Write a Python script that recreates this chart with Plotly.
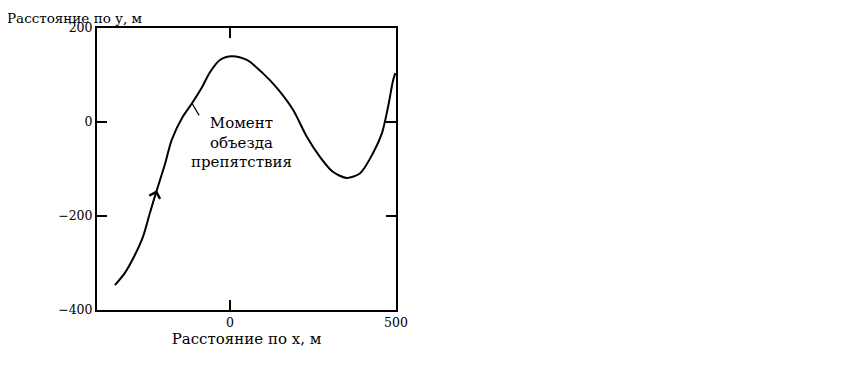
import plotly.graph_objects as go

# trajectory (x, y) in metres
x_m = [-346, -316, -286, -262, -241, -220, -196, -175, -142, -114, -84, -60, -30, 6, 51, 99, 142,
       190, 232, 271, 310, 352, 392, 431, 458, 476, 491, 498]
y_m = [-347, -321, -283, -245, -194, -145, -91, -38, 11, 40, 74, 106, 132, 140, 132, 104, 72,
       26, -32, -74, -106, -119, -109, -66, -23, 32, 88, 104]

x_ticks = [0, 500]
y_ticks = [200, 0, -200, -400]
x_title = "Расстояние по х, м"
y_title = "Расстояние по у, м"
label_lines = ["Момент", "объезда", "препятствия"]

serif = "DejaVu Serif, Liberation Serif, serif"

fig = go.Figure()
fig.add_trace(go.Scatter(x=x_m, y=y_m, mode="lines",
                         line=dict(color="black", width=2, shape="spline", smoothing=0.8),
                         hoverinfo="skip", showlegend=False))

# direction arrow on the curve
fig.add_annotation(x=x_m[5], y=y_m[5], ax=x_m[4], ay=y_m[4], xref="x", yref="y", axref="x", ayref="y",
                   showarrow=True, arrowhead=4, arrowsize=1.8, arrowwidth=1.2, arrowcolor="black", text="")
# label and its pointer
fig.add_annotation(x=x_m[9], y=y_m[9], ax=-90, ay=11, xref="x", yref="y", axref="x", ayref="y",
                   showarrow=True, arrowhead=0, arrowwidth=1.2, arrowcolor="black", text="")
fig.add_annotation(x=36, y=-43, xref="x", yref="y", text="<br>".join(label_lines), showarrow=False,
                   font=dict(family=serif, size=15, color="black"), align="center")

fig.add_annotation(x=0, y=1, xref="paper", yref="paper", xanchor="left", yanchor="top",
                   text=y_title, showarrow=False, font=dict(family=serif, size=13.5, color="black"),
                   xshift=-92, yshift=20)

fig.update_xaxes(range=[-400, 500], tickvals=x_ticks, ticks="inside", ticklen=10, tickwidth=2,
                 tickcolor="black", showline=True, linecolor="black", linewidth=2, mirror="ticks",
                 showgrid=False, zeroline=False,
                 tickfont=dict(family=serif, size=12.5, color="black"),
                 title=dict(text=x_title, font=dict(family=serif, size=15, color="black"), standoff=0))
fig.update_yaxes(range=[-400, 200], tickvals=y_ticks, ticks="inside", ticklen=10, tickwidth=2,
                 tickcolor="black", showline=True, linecolor="black", linewidth=2, mirror="ticks",
                 showgrid=False, zeroline=False,
                 tickfont=dict(family=serif, size=12.5, color="black"))

fig.update_layout(width=835, height=357, margin=dict(l=89, r=447, t=20, b=55),
                  paper_bgcolor="white", plot_bgcolor="white", showlegend=False)

fig.write_html("out.html")
